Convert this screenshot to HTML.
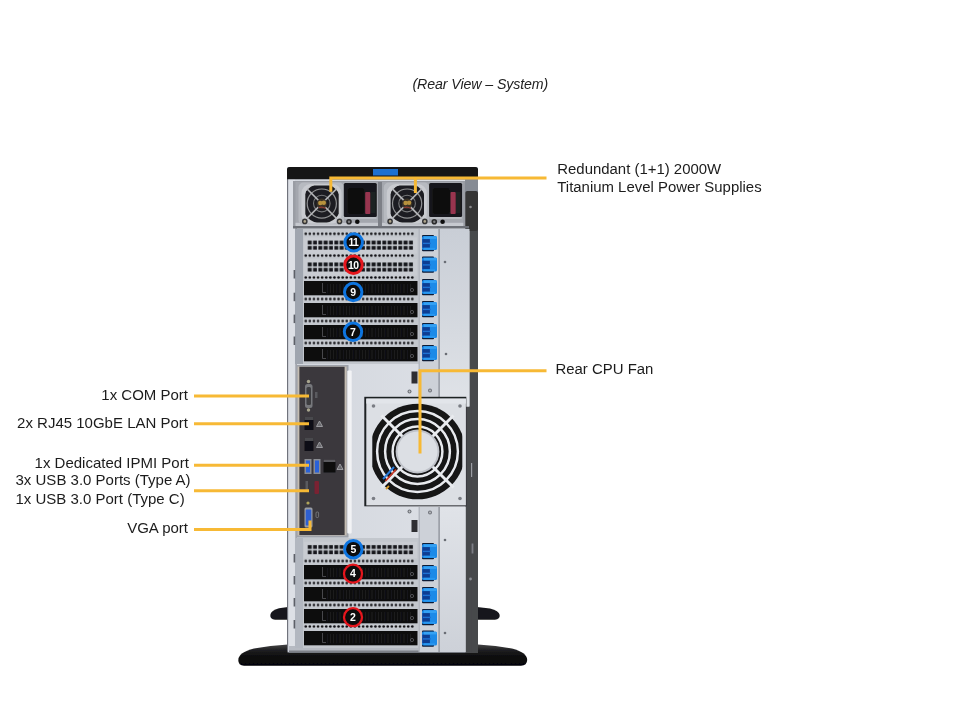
<!DOCTYPE html>
<html><head><meta charset="utf-8"><title>Rear View - System</title>
<style>
html,body{margin:0;padding:0;background:#fff;}
body{width:960px;height:720px;position:relative;overflow:hidden;font-family:"Liberation Sans",sans-serif;color:#1a1a1a;}
svg{position:absolute;left:0;top:0;}
.t{position:absolute;white-space:nowrap;filter:blur(0.35px);font-size:14.93px;line-height:17px;color:#1c1c1c;}
.r{text-align:right;}
.title{position:absolute;filter:blur(0.35px);left:412.5px;top:76.4px;font-size:14.2px;font-style:italic;color:#222;white-space:nowrap;letter-spacing:-0.1px;}
</style></head><body>
<svg width="960" height="720" viewBox="0 0 960 720">
<defs>
<filter id="soft" x="-5%" y="-5%" width="110%" height="110%"><feGaussianBlur stdDeviation="0.55"/></filter>
<filter id="soft3" filterUnits="userSpaceOnUse" x="0" y="0" width="960" height="720"><feGaussianBlur stdDeviation="0.4"/></filter>
<filter id="soft2" x="-20%" y="-20%" width="140%" height="140%"><feGaussianBlur stdDeviation="0.45"/></filter>
<linearGradient id="chs" x1="0" x2="1" y1="0" y2="0">
<stop offset="0" stop-color="#d3d7de"/><stop offset="1" stop-color="#dde0e6"/>
</linearGradient>
<linearGradient id="rp" x1="0" x2="0" y1="0" y2="1"><stop offset="0" stop-color="#c9ced6"/><stop offset="0.6" stop-color="#d6dae0"/><stop offset="1" stop-color="#e0e3e8"/></linearGradient>
<linearGradient id="rp2" x1="0" x2="0" y1="0" y2="1"><stop offset="0" stop-color="#e0e3e8"/><stop offset="1" stop-color="#cdd1d8"/></linearGradient>
<linearGradient id="foot" x1="0" x2="0" y1="0" y2="1">
<stop offset="0" stop-color="#444446"/><stop offset="0.3" stop-color="#1c1c1e"/><stop offset="0.6" stop-color="#0c0c0d"/><stop offset="1" stop-color="#050506"/>
</linearGradient>
<pattern id="bigmesh" x="307.3" y="240.3" width="5.33" height="5.5" patternUnits="userSpaceOnUse">
<rect x="0" y="0" width="5.33" height="5.5" fill="#c6cad0"/><rect x="0.4" y="0.2" width="3.9" height="3.9" fill="#16171b"/>
</pattern>
<pattern id="dots" x="303.7" y="0" width="4.1" height="3" patternUnits="userSpaceOnUse">
<rect x="0" y="0" width="4.1" height="3" fill="#c9ccd2"/><circle cx="2.05" cy="1.5" r="1.3" fill="#101014"/>
</pattern>
<pattern id="fins" x="330" y="0" width="3.2" height="10" patternUnits="userSpaceOnUse">
<rect x="0" y="0" width="3.2" height="10" fill="#0c0c0e"/><rect x="0" y="0" width="0.9" height="10" fill="#2c2c30"/>
</pattern>
</defs>

<g filter="url(#soft)">
<path d="M270.3 615 Q271 610.5 279 608.3 L288 607 L288 619.8 L275 619.8 Q270 619.3 270.3 615Z" fill="#19191b"/>
<path d="M477 607 L490 608.5 Q499 610.5 499.7 615 Q500 619.3 495 619.8 L477 619.8Z" fill="#19191b"/>
<path d="M238.3 660 Q238.5 652.5 254 648.6 Q270 645.3 288 644.4 L478 644.4 Q496 645.3 512 648.6 Q527 652.5 527.2 660 Q527 665.6 521 665.8 L244 665.8 Q238.3 665.6 238.3 660Z" fill="url(#foot)"/>
<rect x="287" y="167" width="191" height="486" rx="2" fill="#6f737b"/>
<rect x="288.5" y="178" width="181" height="474" fill="url(#chs)"/>
<rect x="469.5" y="178" width="8.5" height="475" fill="#47484c"/>
<rect x="465.6" y="406.5" width="6" height="246.5" fill="#47484c"/>
<rect x="471" y="463" width="1.2" height="14" fill="#9a9ca2"/>
<rect x="471.6" y="543.5" width="1.8" height="10" fill="#7c7e84"/>
<circle cx="470.5" cy="579" r="1.4" fill="#8a8c92"/>
<rect x="288.3" y="178" width="6.6" height="474" fill="#dde0e6"/>
<rect x="295.5" y="228" width="1.2" height="424" fill="#8d9098"/>
<path d="M287 170 Q287 167 290 167 L475 167 Q478 167 478 170 L478 179.3 L287 179.3Z" fill="#121214"/>
<rect x="373" y="169" width="25" height="6.5" fill="#1e6fd0"/>
<rect x="289" y="646" width="176" height="6" fill="#b6bac2"/>
<rect x="289" y="650.5" width="176" height="2" fill="#7d8088"/>
<rect x="293" y="181" width="174" height="47" fill="#9a9da4"/>
<rect x="295.5" y="182" width="82.5" height="43" fill="#a4a7ae"/>
<rect x="295.5" y="222.8" width="82.5" height="3.2" fill="#c6c9cf"/>
<clipPath id="c295"><rect x="305.3" y="185.6" width="33.4" height="37" rx="9"/></clipPath>
<rect x="298.5" y="182.6" width="45.5" height="42" rx="5" fill="#b7bac0"/>
<rect x="301.5" y="184" width="40" height="39.5" rx="9" fill="#c9cbd0"/>
<g clip-path="url(#c295)">
<circle cx="321.8" cy="203.6" r="20" fill="#1f1f21"/>
<circle cx="321.8" cy="203.6" r="14.6" fill="none" stroke="#8f9094" stroke-width="1.2"/>
<circle cx="321.8" cy="203.6" r="8.3" fill="none" stroke="#77787c" stroke-width="1.1"/>
<path d="M303.8 185.6 L339.8 221.6 M339.8 185.6 L303.8 221.6" stroke="#b4b5b9" stroke-width="1.6"/>
<circle cx="321.8" cy="203.6" r="5.2" fill="#3a3128"/>
<circle cx="320.3" cy="203.0" r="2.2" fill="#b8923e"/><circle cx="323.8" cy="202.79999999999998" r="2.2" fill="#b8923e"/>
<path d="M318.8 207.6 Q321.8 206.1 325.8 208.6" stroke="#8e3a34" stroke-width="1.2" fill="none"/>
</g>
<rect x="343.8" y="183" width="33" height="34" rx="1.5" fill="#18181a"/>
<rect x="347.5" y="188" width="17" height="26" rx="3" fill="#0c0c0d"/>
<rect x="365.2" y="192" width="5.2" height="22" rx="1" fill="#983650"/>
<rect x="370.7" y="192" width="4.5" height="21" fill="#1c2420"/>
<rect x="344.5" y="217" width="32" height="2" fill="#b9bcc2"/>
<circle cx="304.8" cy="221.4" r="2.8" fill="#343436"/><circle cx="304.8" cy="221.4" r="1.3" fill="#b0a68e"/>
<circle cx="339.5" cy="221.4" r="2.8" fill="#343436"/><circle cx="339.5" cy="221.4" r="1.3" fill="#b0a68e"/>
<circle cx="349.0" cy="221.8" r="2.8" fill="#2a2a2c"/><circle cx="349.0" cy="221.8" r="1.2" fill="#7e7e80"/>
<circle cx="357.3" cy="221.8" r="2.3" fill="#0e0e10"/>
<rect x="380.8" y="182" width="82.5" height="43" fill="#a4a7ae"/>
<rect x="380.8" y="222.8" width="82.5" height="3.2" fill="#c6c9cf"/>
<clipPath id="c380"><rect x="390.6" y="185.6" width="33.4" height="37" rx="9"/></clipPath>
<rect x="383.8" y="182.6" width="45.5" height="42" rx="5" fill="#b7bac0"/>
<rect x="386.8" y="184" width="40" height="39.5" rx="9" fill="#c9cbd0"/>
<g clip-path="url(#c380)">
<circle cx="407.1" cy="203.6" r="20" fill="#1f1f21"/>
<circle cx="407.1" cy="203.6" r="14.6" fill="none" stroke="#8f9094" stroke-width="1.2"/>
<circle cx="407.1" cy="203.6" r="8.3" fill="none" stroke="#77787c" stroke-width="1.1"/>
<path d="M389.1 185.6 L425.1 221.6 M425.1 185.6 L389.1 221.6" stroke="#b4b5b9" stroke-width="1.6"/>
<circle cx="407.1" cy="203.6" r="5.2" fill="#3a3128"/>
<circle cx="405.6" cy="203.0" r="2.2" fill="#b8923e"/><circle cx="409.1" cy="202.79999999999998" r="2.2" fill="#b8923e"/>
<path d="M404.1 207.6 Q407.1 206.1 411.1 208.6" stroke="#8e3a34" stroke-width="1.2" fill="none"/>
</g>
<rect x="429.1" y="183" width="33" height="34" rx="1.5" fill="#18181a"/>
<rect x="432.8" y="188" width="17" height="26" rx="3" fill="#0c0c0d"/>
<rect x="450.5" y="192" width="5.2" height="22" rx="1" fill="#983650"/>
<rect x="456.0" y="192" width="4.5" height="21" fill="#1c2420"/>
<rect x="429.8" y="217" width="32" height="2" fill="#b9bcc2"/>
<circle cx="390.1" cy="221.4" r="2.8" fill="#343436"/><circle cx="390.1" cy="221.4" r="1.3" fill="#b0a68e"/>
<circle cx="424.8" cy="221.4" r="2.8" fill="#343436"/><circle cx="424.8" cy="221.4" r="1.3" fill="#b0a68e"/>
<circle cx="434.3" cy="221.8" r="2.8" fill="#2a2a2c"/><circle cx="434.3" cy="221.8" r="1.2" fill="#7e7e80"/>
<circle cx="442.6" cy="221.8" r="2.3" fill="#0e0e10"/>
<rect x="378" y="182" width="4" height="45" fill="#7d8087"/>
<rect x="465" y="179" width="13" height="14" fill="#868b94"/>
<rect x="465.3" y="191" width="12.7" height="40" rx="2" fill="#343436"/>
<circle cx="470.5" cy="207" r="1.3" fill="#8a8a8c"/>
<rect x="293" y="226" width="176" height="2.5" fill="#6d7077"/>
<rect x="295" y="229" width="123.5" height="135" fill="#9fa5af"/>
<rect x="303" y="229" width="115.5" height="135" fill="#c3c7cd"/>
<rect x="295" y="538" width="123.5" height="110" fill="#b2b7c0"/>
<rect x="303" y="538" width="115.5" height="110" fill="#c3c7cd"/>
<rect x="293.6" y="270" width="1.6" height="8.5" fill="#5d6068"/>
<rect x="293.6" y="292.7" width="1.6" height="8.5" fill="#5d6068"/>
<rect x="293.6" y="314.6" width="1.6" height="8.5" fill="#5d6068"/>
<rect x="293.6" y="336.5" width="1.6" height="8.5" fill="#5d6068"/>
<rect x="293.6" y="554" width="1.6" height="8.5" fill="#5d6068"/>
<rect x="293.6" y="576" width="1.6" height="8.5" fill="#5d6068"/>
<rect x="293.6" y="598" width="1.6" height="8.5" fill="#5d6068"/>
<rect x="293.6" y="620" width="1.6" height="8.5" fill="#5d6068"/>
<rect x="418.5" y="229" width="21" height="168" fill="#b4b8c0"/>
<rect x="420" y="229" width="18" height="168" fill="#cdd1d8"/>
<rect x="439.5" y="229" width="30" height="177.5" fill="url(#rp)"/>
<rect x="438.5" y="229" width="1.5" height="168" fill="#9da1a9"/>
<rect x="418.5" y="507" width="21" height="145" fill="#b4b8c0"/>
<rect x="420" y="507" width="18" height="145" fill="#cdd1d8"/>
<rect x="439.5" y="507" width="26" height="145" fill="url(#rp2)"/>
<rect x="438.5" y="507" width="1.5" height="145" fill="#9da1a9"/>
<g transform="translate(0 232.3)"><rect x="303.7" y="0" width="110.7" height="3" fill="url(#dots)"/></g>
<rect x="304" y="237.3" width="113" height="16.5" fill="#c9ccd2"/>
<g transform="translate(0 0.0)"><rect x="307.3" y="240.3" width="106.6" height="9.6" fill="url(#bigmesh)"/></g>
<g transform="translate(0 254.1)"><rect x="303.7" y="0" width="110.7" height="3" fill="url(#dots)"/></g>
<rect x="304" y="259.2" width="113" height="16.5" fill="#c9ccd2"/>
<g transform="translate(0 21.899999999999977)"><rect x="307.3" y="240.3" width="106.6" height="9.6" fill="url(#bigmesh)"/></g>
<g transform="translate(0 276.0)"><rect x="303.7" y="0" width="110.7" height="3" fill="url(#dots)"/></g>
<rect x="304" y="281" width="113.5" height="14.3" fill="#0d0d0f"/>
<rect x="326" y="284" width="86" height="9.3" fill="url(#fins)" opacity="0.5"/>
<path d="M322.5 283 L322.5 292.5 L326 292.5" stroke="#55565a" stroke-width="0.8" fill="none"/>
<circle cx="412" cy="290" r="1.6" fill="none" stroke="#6a6a6e" stroke-width="0.7"/>
<g transform="translate(0 297.5)"><rect x="303.7" y="0" width="110.7" height="3" fill="url(#dots)"/></g>
<rect x="304" y="303" width="113.5" height="14.3" fill="#0d0d0f"/>
<rect x="326" y="306" width="86" height="9.3" fill="url(#fins)" opacity="0.5"/>
<path d="M322.5 305 L322.5 314.5 L326 314.5" stroke="#55565a" stroke-width="0.8" fill="none"/>
<circle cx="412" cy="312" r="1.6" fill="none" stroke="#6a6a6e" stroke-width="0.7"/>
<g transform="translate(0 319.5)"><rect x="303.7" y="0" width="110.7" height="3" fill="url(#dots)"/></g>
<rect x="304" y="325" width="113.5" height="14.3" fill="#0d0d0f"/>
<rect x="326" y="328" width="86" height="9.3" fill="url(#fins)" opacity="0.5"/>
<path d="M322.5 327 L322.5 336.5 L326 336.5" stroke="#55565a" stroke-width="0.8" fill="none"/>
<circle cx="412" cy="334" r="1.6" fill="none" stroke="#6a6a6e" stroke-width="0.7"/>
<g transform="translate(0 341.5)"><rect x="303.7" y="0" width="110.7" height="3" fill="url(#dots)"/></g>
<rect x="304" y="347" width="113.5" height="14.3" fill="#0d0d0f"/>
<rect x="326" y="350" width="86" height="9.3" fill="url(#fins)" opacity="0.5"/>
<path d="M322.5 349 L322.5 358.5 L326 358.5" stroke="#55565a" stroke-width="0.8" fill="none"/>
<circle cx="412" cy="356" r="1.6" fill="none" stroke="#6a6a6e" stroke-width="0.7"/>
<rect x="422" y="234.9" width="12" height="16.4" rx="1" fill="#0c1a34"/>
<rect x="422" y="236.1" width="15" height="14" rx="1.5" fill="#1d8ae8"/>
<rect x="422.3" y="239.1" width="7.6" height="8.6" fill="#113c92"/>
<rect x="423" y="242.7" width="8" height="1.4" fill="#1b72d4"/>
<rect x="424" y="236.5" width="12.5" height="2.4" fill="#36a2f4"/>
<rect x="424" y="247.8" width="11" height="1.8" fill="#2a98f0"/>
<rect x="422" y="256.4" width="12" height="16.4" rx="1" fill="#0c1a34"/>
<rect x="422" y="257.6" width="15" height="14" rx="1.5" fill="#1d8ae8"/>
<rect x="422.3" y="260.6" width="7.6" height="8.6" fill="#113c92"/>
<rect x="423" y="264.2" width="8" height="1.4" fill="#1b72d4"/>
<rect x="424" y="258" width="12.5" height="2.4" fill="#36a2f4"/>
<rect x="424" y="269.3" width="11" height="1.8" fill="#2a98f0"/>
<rect x="422" y="278.9" width="12" height="16.4" rx="1" fill="#0c1a34"/>
<rect x="422" y="280.1" width="15" height="14" rx="1.5" fill="#1d8ae8"/>
<rect x="422.3" y="283.1" width="7.6" height="8.6" fill="#113c92"/>
<rect x="423" y="286.7" width="8" height="1.4" fill="#1b72d4"/>
<rect x="424" y="280.5" width="12.5" height="2.4" fill="#36a2f4"/>
<rect x="424" y="291.8" width="11" height="1.8" fill="#2a98f0"/>
<rect x="422" y="300.9" width="12" height="16.4" rx="1" fill="#0c1a34"/>
<rect x="422" y="302.1" width="15" height="14" rx="1.5" fill="#1d8ae8"/>
<rect x="422.3" y="305.1" width="7.6" height="8.6" fill="#113c92"/>
<rect x="423" y="308.7" width="8" height="1.4" fill="#1b72d4"/>
<rect x="424" y="302.5" width="12.5" height="2.4" fill="#36a2f4"/>
<rect x="424" y="313.8" width="11" height="1.8" fill="#2a98f0"/>
<rect x="422" y="322.9" width="12" height="16.4" rx="1" fill="#0c1a34"/>
<rect x="422" y="324.1" width="15" height="14" rx="1.5" fill="#1d8ae8"/>
<rect x="422.3" y="327.1" width="7.6" height="8.6" fill="#113c92"/>
<rect x="423" y="330.7" width="8" height="1.4" fill="#1b72d4"/>
<rect x="424" y="324.5" width="12.5" height="2.4" fill="#36a2f4"/>
<rect x="424" y="335.8" width="11" height="1.8" fill="#2a98f0"/>
<rect x="422" y="344.9" width="12" height="16.4" rx="1" fill="#0c1a34"/>
<rect x="422" y="346.1" width="15" height="14" rx="1.5" fill="#1d8ae8"/>
<rect x="422.3" y="349.1" width="7.6" height="8.6" fill="#113c92"/>
<rect x="423" y="352.7" width="8" height="1.4" fill="#1b72d4"/>
<rect x="424" y="346.5" width="12.5" height="2.4" fill="#36a2f4"/>
<rect x="424" y="357.8" width="11" height="1.8" fill="#2a98f0"/>
<rect x="304" y="541.8" width="113" height="16.5" fill="#c9ccd2"/>
<g transform="translate(0 304.49999999999994)"><rect x="307.3" y="240.3" width="106.6" height="9.6" fill="url(#bigmesh)"/></g>
<g transform="translate(0 559.5)"><rect x="303.7" y="0" width="110.7" height="3" fill="url(#dots)"/></g>
<rect x="304" y="565" width="113.5" height="14.3" fill="#0d0d0f"/>
<rect x="326" y="568" width="86" height="9.3" fill="url(#fins)" opacity="0.5"/>
<path d="M322.5 567 L322.5 576.5 L326 576.5" stroke="#55565a" stroke-width="0.8" fill="none"/>
<circle cx="412" cy="574" r="1.6" fill="none" stroke="#6a6a6e" stroke-width="0.7"/>
<g transform="translate(0 581.5)"><rect x="303.7" y="0" width="110.7" height="3" fill="url(#dots)"/></g>
<rect x="304" y="587" width="113.5" height="14.3" fill="#0d0d0f"/>
<rect x="326" y="590" width="86" height="9.3" fill="url(#fins)" opacity="0.5"/>
<path d="M322.5 589 L322.5 598.5 L326 598.5" stroke="#55565a" stroke-width="0.8" fill="none"/>
<circle cx="412" cy="596" r="1.6" fill="none" stroke="#6a6a6e" stroke-width="0.7"/>
<g transform="translate(0 603.5)"><rect x="303.7" y="0" width="110.7" height="3" fill="url(#dots)"/></g>
<rect x="304" y="609" width="113.5" height="14.3" fill="#0d0d0f"/>
<rect x="326" y="612" width="86" height="9.3" fill="url(#fins)" opacity="0.5"/>
<path d="M322.5 611 L322.5 620.5 L326 620.5" stroke="#55565a" stroke-width="0.8" fill="none"/>
<circle cx="412" cy="618" r="1.6" fill="none" stroke="#6a6a6e" stroke-width="0.7"/>
<g transform="translate(0 625.0)"><rect x="303.7" y="0" width="110.7" height="3" fill="url(#dots)"/></g>
<rect x="304" y="631" width="113.5" height="14.3" fill="#0d0d0f"/>
<rect x="326" y="634" width="86" height="9.3" fill="url(#fins)" opacity="0.5"/>
<path d="M322.5 633 L322.5 642.5 L326 642.5" stroke="#55565a" stroke-width="0.8" fill="none"/>
<circle cx="412" cy="640" r="1.6" fill="none" stroke="#6a6a6e" stroke-width="0.7"/>
<rect x="422" y="542.9" width="12" height="16.4" rx="1" fill="#0c1a34"/>
<rect x="422" y="544.1" width="15" height="14" rx="1.5" fill="#1d8ae8"/>
<rect x="422.3" y="547.1" width="7.6" height="8.6" fill="#113c92"/>
<rect x="423" y="550.7" width="8" height="1.4" fill="#1b72d4"/>
<rect x="424" y="544.5" width="12.5" height="2.4" fill="#36a2f4"/>
<rect x="424" y="555.8" width="11" height="1.8" fill="#2a98f0"/>
<rect x="422" y="564.9" width="12" height="16.4" rx="1" fill="#0c1a34"/>
<rect x="422" y="566.1" width="15" height="14" rx="1.5" fill="#1d8ae8"/>
<rect x="422.3" y="569.1" width="7.6" height="8.6" fill="#113c92"/>
<rect x="423" y="572.7" width="8" height="1.4" fill="#1b72d4"/>
<rect x="424" y="566.5" width="12.5" height="2.4" fill="#36a2f4"/>
<rect x="424" y="577.8" width="11" height="1.8" fill="#2a98f0"/>
<rect x="422" y="586.9" width="12" height="16.4" rx="1" fill="#0c1a34"/>
<rect x="422" y="588.1" width="15" height="14" rx="1.5" fill="#1d8ae8"/>
<rect x="422.3" y="591.1" width="7.6" height="8.6" fill="#113c92"/>
<rect x="423" y="594.7" width="8" height="1.4" fill="#1b72d4"/>
<rect x="424" y="588.5" width="12.5" height="2.4" fill="#36a2f4"/>
<rect x="424" y="599.8" width="11" height="1.8" fill="#2a98f0"/>
<rect x="422" y="608.9" width="12" height="16.4" rx="1" fill="#0c1a34"/>
<rect x="422" y="610.1" width="15" height="14" rx="1.5" fill="#1d8ae8"/>
<rect x="422.3" y="613.1" width="7.6" height="8.6" fill="#113c92"/>
<rect x="423" y="616.7" width="8" height="1.4" fill="#1b72d4"/>
<rect x="424" y="610.5" width="12.5" height="2.4" fill="#36a2f4"/>
<rect x="424" y="621.8" width="11" height="1.8" fill="#2a98f0"/>
<rect x="422" y="630.4" width="12" height="16.4" rx="1" fill="#0c1a34"/>
<rect x="422" y="631.6" width="15" height="14" rx="1.5" fill="#1d8ae8"/>
<rect x="422.3" y="634.6" width="7.6" height="8.6" fill="#113c92"/>
<rect x="423" y="638.2" width="8" height="1.4" fill="#1b72d4"/>
<rect x="424" y="632" width="12.5" height="2.4" fill="#36a2f4"/>
<rect x="424" y="643.3" width="11" height="1.8" fill="#2a98f0"/>
<circle cx="445" cy="262" r="1.3" fill="#6a6d74"/>
<circle cx="446" cy="354" r="1.3" fill="#6a6d74"/>
<circle cx="445" cy="540" r="1.3" fill="#6a6d74"/>
<circle cx="445" cy="633" r="1.3" fill="#6a6d74"/>
<rect x="296.5" y="365" width="52" height="172.5" fill="#9ea2aa"/>
<rect x="347.3" y="370.5" width="4.4" height="163" rx="1" fill="#f2f3f5"/>
<rect x="297.6" y="366.5" width="49" height="169" fill="#c4bcb2"/>
<rect x="299.4" y="366.8" width="45.2" height="168.2" fill="#3a393e"/>
<rect x="305" y="384" width="7.5" height="24" rx="2.5" fill="#77787c"/><rect x="306.5" y="387" width="4.5" height="18" rx="1.5" fill="#3c3c40"/>
<circle cx="308.5" cy="381.5" r="1.7" fill="#a8a58e"/><circle cx="308.5" cy="410" r="1.7" fill="#a8a58e"/>
<rect x="315" y="392" width="2.5" height="6" fill="#5a5a5e"/>
<rect x="304.5" y="417" width="9" height="13" fill="#101012"/><rect x="304.5" y="417" width="9" height="3" fill="#4a4a4e"/>
<path d="M316.5 426.5 L319.5 421 L322.5 426.5Z" fill="#6a6a6e" stroke="#a2a2a6" stroke-width="0.9"/>
<rect x="304.5" y="438" width="9" height="13" fill="#101012"/><rect x="304.5" y="438" width="9" height="3" fill="#4a4a4e"/>
<path d="M316.5 447.5 L319.5 442 L322.5 447.5Z" fill="#6a6a6e" stroke="#a2a2a6" stroke-width="0.9"/>
<rect x="304.5" y="459" width="7" height="15" fill="#8a8c92"/><rect x="306" y="460.5" width="4" height="12" fill="#2a62d8"/>
<rect x="313.5" y="459" width="7" height="15" fill="#8a8c92"/><rect x="315" y="460.5" width="4" height="12" fill="#2a62d8"/>
<rect x="323.5" y="459.5" width="12" height="13" fill="#0e0e10"/><rect x="323.5" y="459.5" width="12" height="2.5" fill="#5a5a5e"/>
<path d="M337 469.5 L340 464 L343 469.5Z" fill="#6a6a6e" stroke="#a2a2a6" stroke-width="0.9"/>
<rect x="314.5" y="481" width="4.5" height="13" rx="1" fill="#7a2030"/><rect x="305.5" y="481" width="2.5" height="10" fill="#5a5a5e"/>
<rect x="304.5" y="507.5" width="8" height="20" rx="1.5" fill="#9a9ca2"/><rect x="305.7" y="509.5" width="5.6" height="16" rx="1" fill="#2f5ed0"/>
<circle cx="308" cy="503" r="1.6" fill="#b0a45a"/>
<rect x="316" y="512" width="2.6" height="5.5" rx="1" fill="none" stroke="#8a8a8e" stroke-width="0.7"/>
<rect x="364.3" y="396.8" width="102" height="109.5" fill="#1f2024"/>
<rect x="366.3" y="398.6" width="99.6" height="106.8" fill="#dcdfe4"/>
<rect x="366.3" y="398.6" width="99.6" height="5" fill="#e2e5ea"/>
<clipPath id="fanclip"><rect x="372.3" y="403.3" width="90" height="97.4"/></clipPath>
<g clip-path="url(#fanclip)">
<circle cx="417.5" cy="451.5" r="47.8" fill="#121214"/>
<circle cx="417.5" cy="451.5" r="40.4" fill="none" stroke="#e8eaee" stroke-width="2.5"/>
<circle cx="417.5" cy="451.5" r="32.4" fill="none" stroke="#e8eaee" stroke-width="2.5"/>
<circle cx="417.5" cy="451.5" r="24.9" fill="none" stroke="#e8eaee" stroke-width="2.5"/>
<path d="M381.5 415.5 L453.5 487.5 M453.5 415.5 L381.5 487.5" stroke="#e8eaee" stroke-width="3"/>
</g>
<circle cx="417.5" cy="451.5" r="21.9" fill="#bfc2c9"/>
<circle cx="417.5" cy="451.5" r="20" fill="#dcdfe4"/>
<path d="M383 479 L394 467" stroke="#2a7ad8" stroke-width="2"/><path d="M385.5 481 L396 469.5" stroke="#c8382a" stroke-width="1.8"/><path d="M386 489 L389 486" stroke="#d89a2a" stroke-width="1.8"/>
<circle cx="373.5" cy="406" r="1.8" fill="#7a7d84"/>
<circle cx="460" cy="406" r="1.8" fill="#7a7d84"/>
<circle cx="373.5" cy="498.5" r="1.8" fill="#7a7d84"/>
<circle cx="460" cy="498.5" r="1.8" fill="#7a7d84"/>
<rect x="411.5" y="371.5" width="6" height="12" fill="#2e2f33"/>
<rect x="411.5" y="520" width="6" height="12" fill="#2e2f33"/>
<circle cx="409.5" cy="391.5" r="2" fill="#6e7178"/><circle cx="409.5" cy="391.5" r="0.9" fill="#c0c2c6"/>
<circle cx="430" cy="390.5" r="2" fill="#6e7178"/><circle cx="430" cy="390.5" r="0.9" fill="#c0c2c6"/>
<circle cx="409.5" cy="511.5" r="2" fill="#6e7178"/><circle cx="409.5" cy="511.5" r="0.9" fill="#c0c2c6"/>
<circle cx="430" cy="512.5" r="2" fill="#6e7178"/><circle cx="430" cy="512.5" r="0.9" fill="#c0c2c6"/>
</g>
<g filter="url(#soft2)">
<circle cx="353.7" cy="242.4" r="8.7" fill="#0a0a0c" stroke="#0f74e0" stroke-width="3"/>
<text x="353.4" y="246.15" font-family="Liberation Sans, sans-serif" font-weight="bold" font-size="10.4" fill="#fff" text-anchor="middle" letter-spacing="-0.5">11</text>
<circle cx="353.5" cy="264.8" r="8.7" fill="#0a0a0c" stroke="#e6141c" stroke-width="3"/>
<text x="353.2" y="268.55" font-family="Liberation Sans, sans-serif" font-weight="bold" font-size="10.4" fill="#fff" text-anchor="middle" letter-spacing="-0.5">10</text>
<circle cx="353.2" cy="292" r="8.7" fill="#0a0a0c" stroke="#0f74e0" stroke-width="3"/>
<text x="353.2" y="295.75" font-family="Liberation Sans, sans-serif" font-weight="bold" font-size="10.5" fill="#fff" text-anchor="middle">9</text>
<circle cx="353" cy="331.8" r="8.7" fill="#0a0a0c" stroke="#0f74e0" stroke-width="3"/>
<text x="353" y="335.55" font-family="Liberation Sans, sans-serif" font-weight="bold" font-size="10.5" fill="#fff" text-anchor="middle">7</text>
<circle cx="353.3" cy="549.2" r="8.7" fill="#0a0a0c" stroke="#0f74e0" stroke-width="3"/>
<text x="353.3" y="552.95" font-family="Liberation Sans, sans-serif" font-weight="bold" font-size="10.5" fill="#fff" text-anchor="middle">5</text>
<circle cx="353" cy="573.7" r="9.0" fill="#0a0a0c" stroke="#e6141c" stroke-width="2.3"/>
<text x="353" y="577.45" font-family="Liberation Sans, sans-serif" font-weight="bold" font-size="10.5" fill="#fff" text-anchor="middle">4</text>
<circle cx="353" cy="617.2" r="9.0" fill="#0a0a0c" stroke="#e6141c" stroke-width="2.3"/>
<text x="353" y="620.95" font-family="Liberation Sans, sans-serif" font-weight="bold" font-size="10.5" fill="#fff" text-anchor="middle">2</text>
</g>
<g stroke="#f7b935" stroke-width="3" fill="none" stroke-linecap="butt" filter="url(#soft3)">
<path d="M330.8 191.7 L330.8 178 L546.5 178"/><path d="M415.4 193 L415.4 178"/>
<path d="M420 453.5 L420 370.7 L546.5 370.7"/>
<path d="M194 396 L309 396"/><path d="M194 423.7 L309 423.7"/><path d="M194 465.3 L309 465.3"/><path d="M194 490.8 L309 490.8"/>
<path d="M194 529.6 L310 529.6 L310 520.5"/>
</g>
</svg>
<div class="title">(Rear View &ndash; System)</div>
<div class="t" style="left:557.3px;top:160.3px;">Redundant (1+1) 2000W</div>
<div class="t" style="left:557.3px;top:178.4px;">Titanium Level Power Supplies</div>
<div class="t" style="left:555.5px;top:360.3px;">Rear CPU Fan</div>
<div class="t r" style="right:772px;top:386.2px;font-size:15px;">1x COM Port</div>
<div class="t r" style="right:772px;top:413.6px;font-size:15px;">2x RJ45 10GbE LAN Port</div>
<div class="t r" style="right:771.2px;top:453.6px;font-size:15px;">1x Dedicated IPMI Port</div>
<div class="t r" style="right:769.4px;top:470.6px;font-size:15px;">3x USB 3.0 Ports (Type A)</div>
<div class="t r" style="right:775.3px;top:489.6px;font-size:15px;">1x USB 3.0 Port (Type C)</div>
<div class="t r" style="right:772px;top:519.2px;font-size:15px;">VGA port</div>
</body></html>
